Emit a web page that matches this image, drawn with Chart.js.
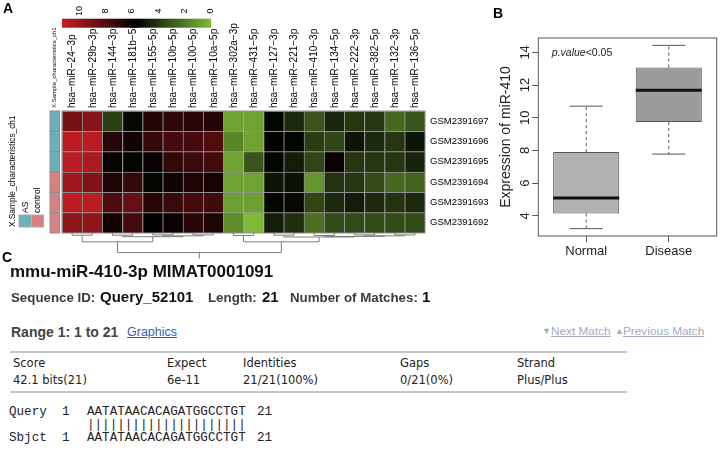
<!DOCTYPE html>
<html>
<head>
<meta charset="utf-8">
<script src="https://cdn.jsdelivr.net/npm/chart.js@4/dist/chart.umd.min.js"></script>
<style>
  body { margin: 0; background: #fff; width: 727px; height: 458px; overflow: hidden; position: relative;
         font-family: "Liberation Sans", Arial, sans-serif; }
  canvas { position: absolute; }
  .t { position: absolute; white-space: nowrap; line-height: 1; }
  .b { font-weight: bold; }
  .tab { font-family: "DejaVu Sans", sans-serif; font-size: 11.5px; color: #222; }
  .mono { font-family: "Liberation Mono", monospace; font-size: 12.6px; color: #222; }
  .lnk { color: #a3abbf; font-size: 11.8px; text-decoration: underline; }
</style>
</head>
<body>
<canvas id="heat" width="490" height="262" style="left:0;top:0"></canvas>
<canvas id="box" width="237" height="270" style="left:490px;top:0"></canvas>

<div class="t b" style="left:3px;top:1px;font-size:14px">A</div>
<div class="t b" style="left:493px;top:6px;font-size:14px">B</div>
<div class="t b" style="left:2px;top:250px;font-size:14px">C</div>

<div class="t b" style="left:10px;top:262.5px;font-size:17px;color:#111">mmu-miR-410-3p MIMAT0001091</div>
<div class="t b" style="left:11px;top:290.7px;font-size:13.3px;color:#3a3a3a">Sequence ID:</div>
<div class="t b" style="left:100px;top:289.3px;font-size:15px;color:#111">Query_52101</div>
<div class="t b" style="left:208px;top:290.7px;font-size:13.3px;color:#3a3a3a">Length:</div>
<div class="t b" style="left:262px;top:289.3px;font-size:15px;color:#111">21</div>
<div class="t b" style="left:290px;top:290.7px;font-size:13.3px;color:#3a3a3a">Number of Matches:</div>
<div class="t b" style="left:422px;top:289.3px;font-size:15px;color:#111">1</div>

<div class="t b" style="left:11px;top:324.9px;font-size:14px;color:#444">Range 1: 1 to 21</div>
<div class="t" style="left:127px;top:326.1px;font-size:12.5px;color:#3b5db0;text-decoration:underline">Graphics</div>
<div class="t" style="left:542px;top:327px;font-size:9px;color:#a3abbf">&#9660;</div>
<div class="t lnk" style="left:551px;top:326.3px">Next Match</div>
<div class="t" style="left:615px;top:327px;font-size:9px;color:#a3abbf">&#9650;</div>
<div class="t lnk" style="left:623px;top:326.3px">Previous Match</div>

<div class="t" style="left:10px;top:351px;width:617px;height:2px;background:#c6c6c6"></div>
<div class="t tab" style="left:13px;top:358.2px">Score</div>
<div class="t tab" style="left:167px;top:358.2px">Expect</div>
<div class="t tab" style="left:243px;top:358.2px">Identities</div>
<div class="t tab" style="left:400px;top:358.2px">Gaps</div>
<div class="t tab" style="left:517px;top:358.2px">Strand</div>
<div class="t tab" style="left:13px;top:375.2px">42.1 bits(21)</div>
<div class="t tab" style="left:167px;top:375.2px">6e-11</div>
<div class="t tab" style="left:243px;top:375.2px">21/21(100%)</div>
<div class="t tab" style="left:400px;top:375.2px">0/21(0%)</div>
<div class="t tab" style="left:517px;top:375.2px">Plus/Plus</div>
<div class="t" style="left:10px;top:391px;width:617px;height:1.5px;background:#c6c6c6"></div>

<div class="t mono" style="left:9px;top:406px">Query</div>
<div class="t mono" style="left:62px;top:406px">1</div>
<div class="t mono" style="left:87px;top:406px">AATATAACACAGATGGCCTGT</div>
<div class="t mono" style="left:257px;top:406px">21</div>
<div class="t mono" style="left:87px;top:419px">|||||||||||||||||||||</div>
<div class="t mono" style="left:9px;top:432px">Sbjct</div>
<div class="t mono" style="left:62px;top:432px">1</div>
<div class="t mono" style="left:87px;top:432px">AATATAACACAGATGGCCTGT</div>
<div class="t mono" style="left:257px;top:432px">21</div>

<script>
Chart.defaults.font.family = "'Liberation Sans', Arial, sans-serif";

// ---- panel A data ----
var mirnas = ['hsa−miR−24−3p', 'hsa−miR−29b−3p', 'hsa−miR−144−3p', 'hsa−miR−181b−5p', 'hsa−miR−155−5p',
              'hsa−miR−10b−5p', 'hsa−miR−100−5p', 'hsa−miR−10a−5p', 'hsa−miR−302a−3p', 'hsa−miR−431−5p',
              'hsa−miR−127−3p', 'hsa−miR−221−3p', 'hsa−miR−410−3p', 'hsa−miR−134−5p', 'hsa−miR−222−3p',
              'hsa−miR−382−5p', 'hsa−miR−132−3p', 'hsa−miR−136−5p'];
// rows top to bottom
var samples = ['GSM2391697', 'GSM2391696', 'GSM2391695', 'GSM2391694', 'GSM2391693', 'GSM2391692'];
var sampleGroup = ['AS', 'AS', 'AS', 'control', 'control', 'control'];
var expr = [
  [9.0, 9.5, 3.7, 5.4, 6.7, 6.9, 6.8, 6.7, 0.7, 0.7, 5.5, 4.4, 3.1, 4.5, 4.0, 4.0, 2.5, 3.1],
  [11.0, 11.0, 6.8, 6.2, 7.2, 7.6, 7.6, 8.0, 1.6, 0.7, 5.8, 5.5, 3.8, 3.5, 5.0, 4.4, 4.0, 5.0],
  [10.9, 10.5, 5.9, 5.5, 5.9, 7.1, 7.3, 7.6, 0.7, 3.1, 5.5, 4.8, 3.5, 5.9, 4.0, 4.0, 4.0, 4.6],
  [10.2, 9.3, 6.5, 7.1, 5.5, 6.2, 6.5, 6.3, 0.7, 0.7, 5.0, 5.1, 1.1, 4.1, 4.0, 3.4, 2.5, 2.7],
  [11.0, 11.0, 7.9, 8.6, 6.8, 7.3, 7.6, 7.5, 0.8, 0.8, 5.5, 5.4, 3.5, 4.4, 4.8, 4.4, 4.1, 4.4],
  [9.6, 9.7, 6.2, 7.6, 5.6, 5.9, 6.8, 6.5, 1.4, 0.0, 4.8, 4.2, 2.3, 3.4, 3.4, 3.4, 3.4, 3.4]
];
var colorTicks = [10, 8, 6, 4, 2, 0];
var colorMax = 11.3;
// column clustering (R hclust style: negative = leaf, positive = earlier merge)
var colMerge = [
  [-1, -2, 0.4], [-3, -4, 0.4], [-5, -6, 0.3], [-7, -8, 0.3], [3, 4, 0.6], [2, 5, 0.9], [1, 6, 2.6],
  [-9, -10, 0.5], [-11, -12, 0.4], [-13, -14, 0.5], [-15, -16, 0.3], [-17, -18, 0.3],
  [11, 12, 0.6], [10, 13, 0.8], [9, 14, 1.0], [8, 15, 2.6], [7, 16, 6.2]
];

// ---- panel B data ----
var groups = ['Normal', 'Disease'];
var boxMin = [3.22, 7.78];
var boxQ1 = [4.15, 9.75];
var boxMedian = [5.09, 11.68];
var boxQ3 = [7.9, 13.07];
var boxMax = [10.71, 14.43];
var yTicks = [4, 6, 8, 10, 12, 14];

var RED = [198, 30, 36], GREEN = [126, 186, 56];
var groupColor = { AS: '#6cb0ba', control: '#d98080' };

function heatColor(v) {
  var mid = colorMax / 2, c, t;
  if (v >= mid) { t = Math.min(1, (v - mid) / (colorMax - mid)); c = RED; }
  else { t = Math.min(1, (mid - v) / mid); c = GREEN; }
  return 'rgb(' + Math.round(c[0] * t) + ',' + Math.round(c[1] * t) + ',' + Math.round(c[2] * t) + ')';
}

function rotText(ctx, txt, x, y, align) {
  ctx.save();
  ctx.translate(x, y);
  ctx.rotate(-Math.PI / 2);
  ctx.textAlign = align;
  ctx.textBaseline = 'middle';
  ctx.fillText(txt, 0, 0);
  ctx.restore();
}

var bottomUp = samples.slice().reverse();

var heatExtras = {
  id: 'heatExtras',
  afterDraw: function(chart) {
    var ctx = chart.ctx, a = chart.chartArea, x = chart.scales.x, y = chart.scales.y;
    ctx.save();
    // outer frame of the heatmap
    ctx.strokeStyle = '#8f8f8f';
    ctx.lineWidth = 1;
    ctx.strokeRect(a.left, a.top, a.right - a.left, a.bottom - a.top);

    // column labels, centred on each category of the x scale
    ctx.fillStyle = '#000';
    ctx.font = "10px 'Liberation Sans'";
    mirnas.forEach(function(m, i) { rotText(ctx, m, x.getPixelForValue(i) + 0.5, a.top - 3, 'left'); });

    // annotation column
    var ax0 = a.left - 12, ax1 = a.left - 2.5;
    samples.forEach(function(s, r) {
      var t = y.getPixelForValue(samples.length - r), b = y.getPixelForValue(samples.length - r - 1);
      ctx.fillStyle = groupColor[sampleGroup[r]];
      ctx.fillRect(ax0, t, ax1 - ax0, b - t);
      ctx.strokeRect(ax0, t, ax1 - ax0, b - t);
    });
    ctx.fillStyle = '#000';
    ctx.font = "6px 'Liberation Sans'";
    rotText(ctx, 'X.Sample_characteristics_ch1', (ax0 + ax1) / 2, a.top - 3, 'left');

    // annotation legend
    ctx.font = "8.3px 'Liberation Sans'";
    rotText(ctx, 'X.Sample_characteristics_ch1', 13, 227, 'left');
    ctx.font = "8.5px 'Liberation Sans'";
    rotText(ctx, 'AS', 26, 213, 'left');
    rotText(ctx, 'control', 38, 213, 'left');
    ctx.fillStyle = groupColor.AS; ctx.fillRect(19, 215, 12.5, 12);
    ctx.fillStyle = groupColor.control; ctx.fillRect(31.5, 215, 12, 12);
    ctx.strokeStyle = '#aaaaaa';
    ctx.strokeRect(19, 215, 24.5, 12);

    // colour key
    var cl = a.left, cr = a.left + 149, ct = 18.7, cb = 27.7;
    var g = ctx.createLinearGradient(cl, 0, cr, 0);
    for (var i = 0; i <= 40; i++) g.addColorStop(i / 40, heatColor(colorMax * (1 - i / 40)));
    ctx.fillStyle = g;
    ctx.fillRect(cl, ct, cr - cl, cb - ct);
    ctx.fillStyle = '#000';
    ctx.font = "9px 'Liberation Sans'";
    colorTicks.forEach(function(v) {
      rotText(ctx, String(v), cl + (colorMax - v) / colorMax * (cr - cl), 11, 'center');
    });

    // column dendrogram
    var base = a.bottom, k = 3;
    var pos = [];
    function nx(id) { return id < 0 ? x.getPixelForValue(-id - 1) : pos[id - 1].x; }
    function ny(id) { return id < 0 ? base : pos[id - 1].y; }
    ctx.strokeStyle = '#7d7d7d';
    ctx.lineWidth = 1;
    ctx.beginPath();
    colMerge.forEach(function(m) {
      var x1 = nx(m[0]), x2 = nx(m[1]), yy = base + 1 + m[2] * k;
      ctx.moveTo(x1, ny(m[0])); ctx.lineTo(x1, yy); ctx.lineTo(x2, yy); ctx.lineTo(x2, ny(m[1]));
      pos.push({ x: (x1 + x2) / 2, y: yy });
    });
    var root = pos[pos.length - 1];
    ctx.moveTo(root.x, root.y); ctx.lineTo(root.x, root.y + 6);
    ctx.stroke();
    ctx.restore();
  }
};

new Chart(document.getElementById('heat'), {
  type: 'bar',
  data: {
    labels: mirnas,
    datasets: bottomUp.map(function(s) {
      var r = samples.indexOf(s);
      return {
        label: s,
        data: mirnas.map(function() { return 1; }),
        backgroundColor: expr[r].map(heatColor)
      };
    })
  },
  options: {
    responsive: false,
    animation: false,
    layout: { padding: { left: 62, right: 0, top: 0, bottom: 29 } },
    plugins: { legend: { display: false }, tooltip: { enabled: false } },
    datasets: {
      bar: {
        barPercentage: 1, categoryPercentage: 1,
        borderColor: '#8f8f8f', borderWidth: { top: 1, left: 1, right: 0, bottom: 0 }, borderSkipped: false
      }
    },
    scales: {
      x: {
        position: 'top', stacked: true,
        grid: { display: false, drawTicks: false }, border: { display: false },
        ticks: { display: false },
        afterFit: function(s) { s.height = 111; }
      },
      y: {
        position: 'right', stacked: true, min: 0, max: samples.length,
        grid: { display: false, drawTicks: false }, border: { display: false },
        afterBuildTicks: function(s) { s.ticks = bottomUp.map(function(_, i) { return { value: i + 0.5 }; }); },
        ticks: {
          padding: 5, color: '#000', font: { size: 9.5 },
          callback: function(v) { return bottomUp[Math.floor(v)]; }
        },
        afterFit: function(s) { s.width = 65; }
      }
    }
  },
  plugins: [heatExtras]
});

// ---- panel B ----
var boxExtras = {
  id: 'boxExtras',
  afterDatasetsDraw: function(chart) {
    var ctx = chart.ctx, a = chart.chartArea, x = chart.scales.x, y = chart.scales.y;
    var meta = chart.getDatasetMeta(0);
    ctx.save();
    groups.forEach(function(g, i) {
      var cx = x.getPixelForValue(i + 1), half = meta.data[i].width / 2;
      ctx.strokeStyle = '#555';
      ctx.lineWidth = 1;
      ctx.setLineDash([3, 3]);
      ctx.beginPath();
      ctx.moveTo(cx, y.getPixelForValue(boxQ3[i])); ctx.lineTo(cx, y.getPixelForValue(boxMax[i]));
      ctx.moveTo(cx, y.getPixelForValue(boxQ1[i])); ctx.lineTo(cx, y.getPixelForValue(boxMin[i]));
      ctx.stroke();
      ctx.setLineDash([]);
      ctx.beginPath();
      ctx.moveTo(cx - half / 2, y.getPixelForValue(boxMax[i])); ctx.lineTo(cx + half / 2, y.getPixelForValue(boxMax[i]));
      ctx.moveTo(cx - half / 2, y.getPixelForValue(boxMin[i])); ctx.lineTo(cx + half / 2, y.getPixelForValue(boxMin[i]));
      ctx.stroke();
      ctx.strokeStyle = '#111';
      ctx.lineWidth = 3;
      ctx.beginPath();
      ctx.moveTo(cx - half, y.getPixelForValue(boxMedian[i])); ctx.lineTo(cx + half, y.getPixelForValue(boxMedian[i]));
      ctx.stroke();
    });
    // frame
    ctx.strokeStyle = '#555';
    ctx.lineWidth = 1;
    ctx.strokeRect(a.left, a.top, a.right - a.left, a.bottom - a.top);
    // rotated y tick labels
    ctx.fillStyle = '#222';
    ctx.font = "13px 'Liberation Sans'";
    yTicks.forEach(function(v) { rotText(ctx, String(v), a.left - 12.5, y.getPixelForValue(v), 'center'); });
    // p value note
    ctx.textBaseline = 'middle';
    ctx.textAlign = 'left';
    ctx.font = "italic 10.5px 'Liberation Sans'";
    ctx.fillText('p.value', a.left + 13.5, a.top + 15);
    var w = ctx.measureText('p.value').width;
    ctx.font = "10.5px 'Liberation Sans'";
    ctx.fillText('<0.05', a.left + 13.5 + w, a.top + 15);
    ctx.restore();
  }
};

new Chart(document.getElementById('box'), {
  type: 'bar',
  data: {
    datasets: [{
      data: groups.map(function(g, i) { return { x: i + 1, y: [boxQ1[i], boxQ3[i]] }; }),
      backgroundColor: ['#b3b1b3', '#9b9b9b'],
      borderColor: '#555', borderWidth: 1, borderSkipped: false,
      barPercentage: 0.8, categoryPercentage: 1
    }]
  },
  options: {
    responsive: false,
    animation: false,
    layout: { padding: { top: 38, right: 10.3, left: 0, bottom: 0 } },
    plugins: { legend: { display: false }, tooltip: { enabled: false } },
    scales: {
      x: {
        type: 'linear', min: 0.42, max: 2.58, offset: false,
        grid: { drawOnChartArea: false, drawTicks: true, tickLength: 6, color: '#555', offset: false },
        border: { display: false },
        afterBuildTicks: function(s) { s.ticks = groups.map(function(_, i) { return { value: i + 1 }; }); },
        ticks: { padding: 2, color: '#222', font: { size: 13 }, callback: function(v) { return groups[v - 1]; } },
        afterFit: function(s) { s.height = 34; }
      },
      y: {
        min: 2.77, max: 14.88,
        grid: { drawOnChartArea: false, drawTicks: true, tickLength: 6, color: '#555' },
        border: { display: false },
        afterBuildTicks: function(s) { s.ticks = yTicks.map(function(v) { return { value: v }; }); },
        ticks: { display: false },
        title: { display: true, text: 'Expression of miR-410', color: '#222', font: { size: 14 }, padding: { top: 8, bottom: 0 } },
        afterFit: function(s) { s.width = 48.3; }
      }
    }
  },
  plugins: [boxExtras]
});
</script>
</body>
</html>
